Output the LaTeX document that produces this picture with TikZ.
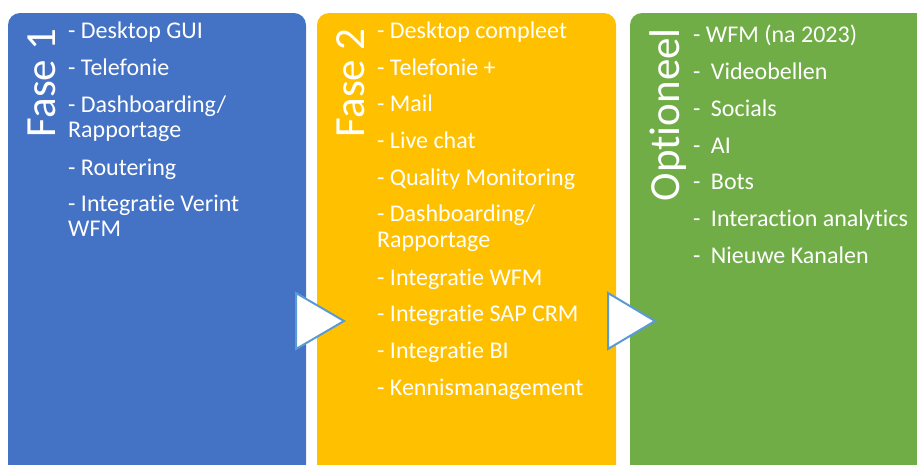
\documentclass[tikz,border=0pt]{standalone}
\usepackage{fontspec}
\setmainfont{Carlito}[Ligatures=NoCommon]
\definecolor{fasea}{HTML}{4472C4}
\definecolor{faseb}{HTML}{FFC000}
\definecolor{optie}{HTML}{70AD47}
\definecolor{pijl}{HTML}{5B9BD5}
\tikzset{
  titel/.style={text=white, rotate=90, anchor=base east, inner sep=0pt, font=\fontsize{43}{50}\selectfont},
  punt/.style={text=white, anchor=base west, inner sep=0pt, font=\fontsize{24}{28}\selectfont},
  pijlpunt/.style={fill=white, draw=pijl, line width=2pt}
}
\begin{document}
\begin{tikzpicture}[x=1pt, y=-1pt]
	\useasboundingbox (0,0) rectangle (917,464);
	\clip (0,0) rectangle (917,464);
	% kolommen
	\fill[fasea, rounded corners=12pt] (8,13) rectangle (306,490);
	\fill[faseb, rounded corners=12pt] (317,13) rectangle (616,490);
	\fill[optie, rounded corners=12pt] (630,13) rectangle (940,490);
	
	% titels
	\node[titel] (fase1) at (55,28) {Fase 1};
	\node[titel] (fase2) at (364,28) {Fase 2};
	\node[titel] (optioneel) at (679,28) {Optioneel};
	
	% punten
	\foreach \y/\t [count=\i] in {38/{- Desktop GUI}, 75.4/{- Telefonie}, 112.7/{- Dashboarding/}, 137.7/{Rapportage}, 175/{- Routering}, 211.7/{- Integratie Verint}, 236.7/{WFM}}
		\node[punt] (f1-\i) at (68,\y) {\t};
	\foreach \y/\t [count=\i] in {38.3/{- Desktop compleet}, 75/{- Telefonie +}, 111.7/{- Mail}, 148.4/{- Live chat}, 185.1/{- Quality Monitoring}, 221.8/{- Dashboarding/}, 247.8/{Rapportage}, 285/{- Integratie WFM}, 321.7/{- Integratie SAP CRM}, 358.4/{- Integratie BI}, 395.1/{- Kennismanagement}}
		\node[punt] (f2-\i) at (377,\y) {\t};
	\foreach \y/\t [count=\i] in {42/{- WFM (na 2023)}, 79.5/{-\hspace{5pt} Videobellen}, 116/{-\hspace{5pt} Socials}, 153/{-\hspace{5pt} AI}, 189.5/{-\hspace{5pt} Bots}, 226.5/{-\hspace{5pt} Interaction analytics}, 263/{-\hspace{5pt} Nieuwe Kanalen}}
		\node[punt] (op-\i) at (693,\y) {\t};
	
	% pijlen
	\draw[pijlpunt] (296,293) -- (344,321) -- (296,349) -- cycle;
	\draw[pijlpunt] (608,293) -- (655,321) -- (608,349) -- cycle;
\end{tikzpicture}
\end{document}
